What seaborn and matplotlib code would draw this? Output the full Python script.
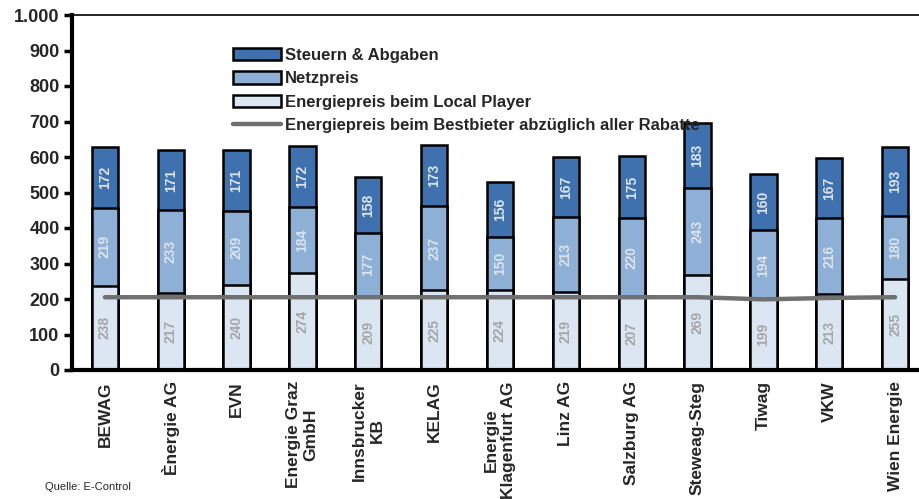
import numpy as np
import pandas as pd
import matplotlib
matplotlib.use("Agg")
import matplotlib.pyplot as plt
import seaborn as sns
from matplotlib.patches import Patch
from matplotlib.lines import Line2D

categories = ["BEWAG", "Ènergie AG", "EVN", "Energie Graz\nGmbH", "Innsbrucker\nKB",
              "KELAG", "Energie\nKlagenfurt AG", "Linz AG", "Salzburg AG",
              "Steweag-Steg", "Tiwag", "VKW", "Wien Energie"]
energie = [238, 217, 240, 274, 209, 225, 224, 219, 207, 269, 199, 213, 255]
netz = [219, 233, 209, 184, 177, 237, 150, 213, 220, 243, 194, 216, 180]
steuern = [172, 171, 171, 172, 158, 173, 156, 167, 175, 183, 160, 167, 193]
bestbieter = [205, 205, 205, 205, 205, 205, 205, 205, 205, 205, 199, 203, 205]
yticks = [0, 100, 200, 300, 400, 500, 600, 700, 800, 900, 1000]
ytick_labels = ["0", "100", "200", "300", "400", "500", "600", "700", "800", "900", "1.000"]
legend_labels = ["Steuern & Abgaben", "Netzpreis", "Energiepreis beim Local Player",
                 "Energiepreis beim Bestbieter abzüglich aller Rabatte"]
source = "Quelle: E-Control"

sns.set_theme(style="white")
plt.rcParams["font.family"] = ["Liberation Sans", "DejaVu Sans"]

c_dark = "#3e71ad"
c_mid = "#8eafd6"
c_light = "#dbe6f2"
c_line = "#707070"

df = pd.DataFrame({"cat": categories, "e": energie, "n": netz, "s": steuern})
df["en"] = df["e"] + df["n"]
df["tot"] = df["en"] + df["s"]

fig = plt.figure(figsize=(9.19, 4.99), dpi=100)
ax = fig.add_axes([72 / 919, 1 - 370 / 499, (928 - 72) / 919, (370 - 15) / 499])

kw = dict(x="cat", width=0.4, edgecolor="black", linewidth=1.8, ax=ax, order=categories)
sns.barplot(data=df, y="tot", color=c_dark, saturation=1, **kw)
sns.barplot(data=df, y="en", color=c_mid, saturation=1, **kw)
sns.barplot(data=df, y="e", color=c_light, saturation=1, **kw)

sns.lineplot(x=np.arange(len(categories)), y=bestbieter, color=c_line, linewidth=3.2,
             ax=ax, zorder=4)

for i in range(len(categories)):
    ax.text(i, energie[i] / 2, str(energie[i]), rotation=90, ha="center", va="center",
            fontsize=10, fontweight="bold", color="#a6a6a6", zorder=5)
    ax.text(i, energie[i] + netz[i] / 2, str(netz[i]), rotation=90, ha="center", va="center",
            fontsize=10, fontweight="bold", color="#dde3ea", zorder=5)
    ax.text(i, energie[i] + netz[i] + steuern[i] / 2, str(steuern[i]), rotation=90,
            ha="center", va="center", fontsize=10, fontweight="bold", color="#dde3ea", zorder=5)

ax.set_xlim(-0.5, len(categories) - 0.5)
ax.set_ylim(0, 1000)
ax.set_yticks(yticks)
ax.set_yticklabels(ytick_labels, fontsize=13, fontweight="bold")
ax.set_xticks(range(len(categories)))
ax.set_xticklabels(categories, rotation=90, fontsize=12.5, fontweight="bold",
                   ha="center", va="top", multialignment="center")
ax.set_xticks(np.arange(-0.5, len(categories), 1), minor=True)
ax.tick_params(axis="x", which="major", length=0, pad=8)
ax.tick_params(axis="x", which="minor", length=6, width=2.5, direction="out", color="black")
ax.tick_params(axis="y", which="major", length=6, width=2.5, direction="out", color="black",
               pad=3, left=True)
ax.set_xlabel("")
ax.set_ylabel("")
ax.grid(False)
for sp in ["left", "bottom"]:
    ax.spines[sp].set_linewidth(3)
    ax.spines[sp].set_color("black")
ax.spines["top"].set_linewidth(1.2)
ax.spines["top"].set_color("black")
ax.spines["right"].set_visible(False)

handles = [Patch(facecolor=c_dark, edgecolor="black", linewidth=1.8),
           Patch(facecolor=c_mid, edgecolor="black", linewidth=1.8),
           Patch(facecolor=c_light, edgecolor="black", linewidth=1.8),
           Line2D([0], [0], color=c_line, linewidth=3.2)]
leg = ax.legend(handles, legend_labels, loc="upper left",
                bbox_to_anchor=(233 / 919, 1 - 48 / 499), bbox_transform=fig.transFigure,
                frameon=False, prop={"weight": "bold", "size": 12},
                handlelength=2.9, handleheight=0.75, handletextpad=0.2, labelspacing=0.5,
                borderpad=0, borderaxespad=0)

fig.text(45 / 919, 1 - 487 / 499, source, fontsize=8,
         family=["Liberation Sans Narrow", "Liberation Sans", "DejaVu Sans"],
         va="center", ha="left")

fig.savefig("out.png", dpi=100)
